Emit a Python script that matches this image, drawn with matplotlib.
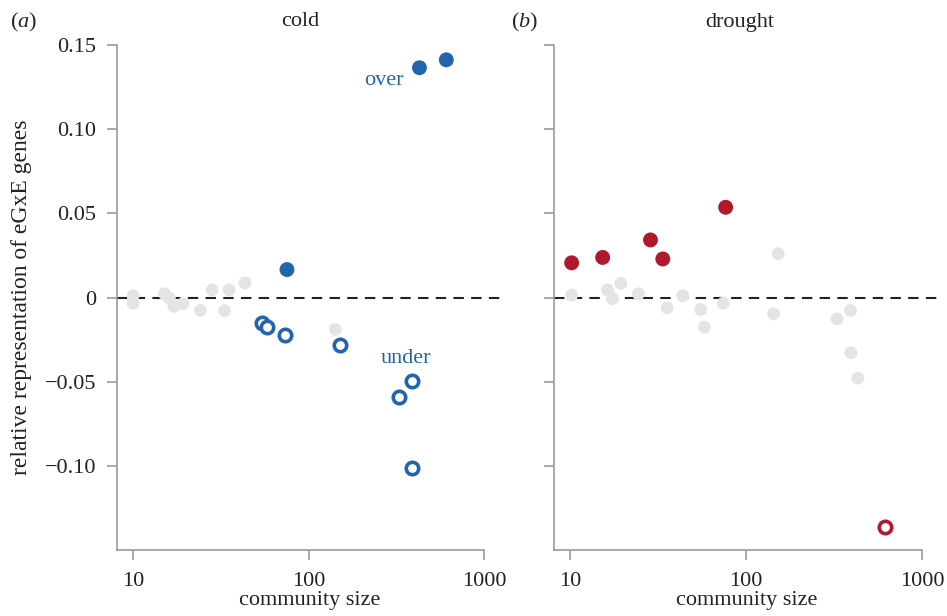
import matplotlib
matplotlib.use("Agg")
import matplotlib.pyplot as plt
import numpy as np

plt.rcParams['font.family'] = ['Liberation Serif', 'DejaVu Serif']
plt.rcParams['mathtext.fontset'] = 'custom'
plt.rcParams['mathtext.rm'] = 'Liberation Serif'
plt.rcParams['mathtext.it'] = 'Liberation Serif:italic'

# ---- data: cold ----
cold_gray_x = [10, 10, 15.1, 16.1, 17.1, 19.2, 24.2, 28.2, 33.2, 35.2, 43.3, 141.6]
cold_gray_y = [0.001, -0.0034, 0.0022, -0.0004, -0.0053, -0.0037, -0.0077, 0.0045, -0.0078, 0.0045, 0.0087, -0.019]
cold_over_x = [75.2, 427, 607]
cold_over_y = [0.0166, 0.1365, 0.1412]
cold_under_x = [54, 57.8, 72.8, 151, 387, 325, 387]
cold_under_y = [-0.0152, -0.0176, -0.0225, -0.0285, -0.0498, -0.0594, -0.1013]

# ---- data: drought ----
dr_gray_x = [10.2, 16.3, 17.4, 19.4, 24.4, 35.6, 43.6, 55.1, 57.8, 74.1, 152, 143, 328, 391, 394, 430]
dr_gray_y = [0.0014, 0.0045, -0.0006, 0.0084, 0.0022, -0.0061, 0.001, -0.0071, -0.0176, -0.0034, 0.026, -0.0097, -0.0127, -0.0077, -0.0328, -0.0479]
dr_over_x = [10.2, 15.3, 28.6, 33.6, 76.4]
dr_over_y = [0.0206, 0.0238, 0.0342, 0.0229, 0.0536]
dr_under_x = [610]
dr_under_y = [-0.1362]

yticks = [0.15, 0.10, 0.05, 0, -0.05, -0.10]
ytick_labels = ['0.15', '0.10', '0.05', '0', '\u22120.05', '\u22120.10']
xticks = [10, 100, 1000]
xtick_labels = ['10', '100', '1000']

BLUE = '#2166ac'
RED = '#b2182b'
GRAY = '#e4e4e6'
AX_GRAY = '#999999'
TXT = '#222222'

W, H = 947, 616
fig = plt.figure(figsize=(W / 100, H / 100), dpi=100)

def px_axes(x0, x1, y_top, y_bot):
    return fig.add_axes([x0 / W, 1 - y_bot / H, (x1 - x0) / W, (y_bot - y_top) / H])

ymin, ymax = -0.15, 0.15
xmin, xmax = 8.1, 1260

def style(ax, show_labels):
    ax.set_xscale('log')
    ax.set_xlim(xmin, xmax)
    ax.set_ylim(ymin, ymax)
    for s in ['top', 'right']:
        ax.spines[s].set_visible(False)
    for s in ['left', 'bottom']:
        ax.spines[s].set_color(AX_GRAY)
        ax.spines[s].set_linewidth(1.2)
    ax.spines['bottom'].set_bounds(xmin, 1000)
    ax.set_xticks(xticks)
    ax.set_xticklabels(xtick_labels)
    ax.xaxis.set_minor_locator(matplotlib.ticker.NullLocator())
    ax.set_yticks(yticks)
    if show_labels:
        ax.set_yticklabels(ytick_labels)
    else:
        ax.set_yticklabels([])
    ax.tick_params(axis='both', direction='out', length=7, width=1.2, color=AX_GRAY,
                   labelsize=16, labelcolor=TXT, pad=8)
    ax.tick_params(axis='x', pad=9)
    ax.axhline(0, color=TXT, lw=1.5, ls=(0, (5, 3.5)), zorder=1)
    ax.set_xlabel('community size', fontsize=16, color=TXT, labelpad=0)

ax1 = px_axes(117, 502, 45, 550)
ax2 = px_axes(554, 940, 45, 550)
style(ax1, True)
style(ax2, False)

def draw(ax, gx, gy, ox, oy, ux, uy, col):
    ax.scatter(gx, gy, s=85, color=GRAY, edgecolors='none', zorder=2, clip_on=False)
    ax.scatter(ox, oy, s=115, color=col, edgecolors='none', zorder=3, clip_on=False)
    ax.scatter(ux, uy, s=80, facecolors='white', edgecolors=col, linewidths=2.6, zorder=3, clip_on=False)

draw(ax1, cold_gray_x, cold_gray_y, cold_over_x, cold_over_y, cold_under_x, cold_under_y, BLUE)
draw(ax2, dr_gray_x, dr_gray_y, dr_over_x, dr_over_y, dr_under_x, dr_under_y, RED)

ax1.text(268, 0.129, 'over', color=BLUE, fontsize=16, ha='center', va='center')
ax1.text(357, -0.0365, 'under', color=BLUE, fontsize=16, ha='center', va='center')

fig.text(22 / W, 1 - 297 / H, 'relative representation of eGxE genes', fontsize=17,
         rotation=90, ha='center', va='center', color=TXT)

fig.text(24 / W, 1 - 22 / H, '($\\mathit{a}$)', fontsize=16, ha='center', va='center', color=TXT)
fig.text(300 / W, 1 - 22 / H, 'cold', fontsize=16, ha='center', va='center', color=TXT)
fig.text(525 / W, 1 - 22 / H, '($\\mathit{b}$)', fontsize=16, ha='center', va='center', color=TXT)
fig.text(740 / W, 1 - 22 / H, 'drought', fontsize=16, ha='center', va='center', color=TXT)

fig.savefig('out.png', dpi=100)
